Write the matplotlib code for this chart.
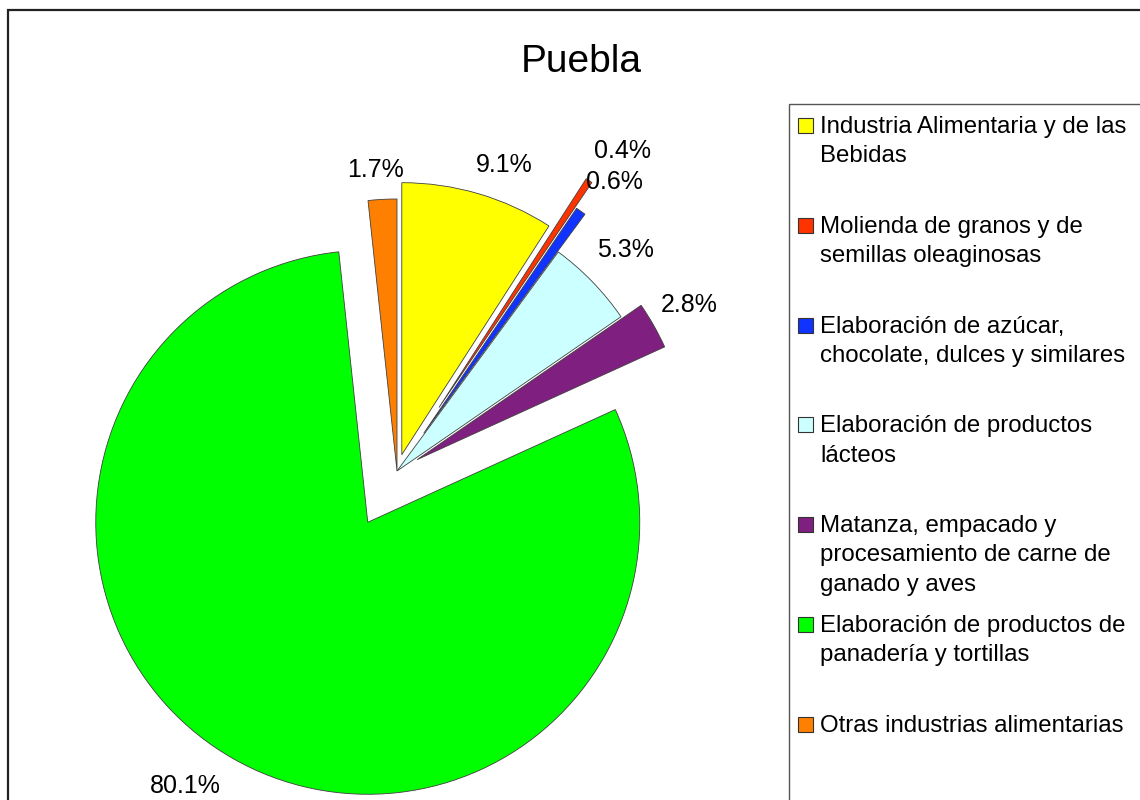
import numpy as np
import matplotlib
matplotlib.use("Agg")
import matplotlib.pyplot as plt
from matplotlib.patches import Rectangle

plt.rcParams['font.family'] = ['Liberation Sans', 'DejaVu Sans']

# participación por rama, Puebla (%)
categorias = ["Industria Alimentaria y de las\nBebidas",
              "Molienda de granos y de\nsemillas oleaginosas",
              "Elaboración de azúcar,\nchocolate, dulces y similares",
              "Elaboración de productos\nlácteos",
              "Matanza, empacado y\nprocesamiento de carne de\nganado y aves",
              "Elaboración de productos de\npanadería y tortillas",
              "Otras industrias alimentarias"]
valores = [9.1, 0.4, 0.6, 5.3, 2.8, 80.1, 1.7]

colores = ["#FFFF00", "#FF3300", "#1033FF", "#CCFFFF", "#7F1F7F", "#00FF00", "#FF8000"]
separacion = [0.0625, 0.28, 0.17, 0.0, 0.085, 0.217, 0.0]

# distancia y ajuste angular de cada etiqueta
dist_etq = [1.13, 1.16, 1.16, 1.17, 1.15, 1.18, 1.11]
giro_etq = [-3, -2, -2, 0, 0, -5, 1]

W, H = 1140, 800
R = 272.0          # radio en pixeles
cx, cy = 397, 471  # centro del pastel en pixeles

fig = plt.figure(figsize=(W / 100, H / 100), dpi=100)
ax = fig.add_axes([0, 0, 1, 1])

wedges, _ = ax.pie(valores, explode=separacion, colors=colores, startangle=90,
                   counterclock=False, radius=1,
                   wedgeprops=dict(edgecolor="#404040", linewidth=0.6))

for w, v, d, g in zip(wedges, valores, dist_etq, giro_etq):
    ang = np.deg2rad((w.theta1 + w.theta2) / 2 + g)
    x0, y0 = w.center
    ax.text(x0 + d * np.cos(ang), y0 + d * np.sin(ang), "%.1f%%" % v,
            ha="center", va="center", fontsize=18)

ax.set_xlim(-cx / R, (W - cx) / R)
ax.set_ylim(-(H - cy) / R, cy / R)
ax.set_aspect("auto")
ax.axis("off")

def fx(px):
    return px / W

def fy(py):
    return 1 - py / H

# marco exterior
fig.patches.append(Rectangle((fx(8), fy(810)), fx(1150) - fx(8), fy(10) - fy(810),
                             transform=fig.transFigure, fill=False,
                             edgecolor="#222222", linewidth=1.6))

fig.text(fx(581), fy(62), "Puebla", ha="center", va="center", fontsize=28)

# leyenda: cada renglón por separado, alineado a su línea base
fig.patches.append(Rectangle((fx(789), fy(810)), fx(1150) - fx(789), fy(104) - fy(810),
                             transform=fig.transFigure, fill=False,
                             edgecolor="#555555", linewidth=1.0))
for i, (cat, col) in enumerate(zip(categorias, colores)):
    base = 133 + 99.8 * i
    fig.patches.append(Rectangle((fx(798), fy(base)), fx(813) - fx(798), fy(base - 15) - fy(base),
                                 transform=fig.transFigure, facecolor=col,
                                 edgecolor="#333333", linewidth=0.8))
    for k, renglon in enumerate(cat.split("\n")):
        fig.text(fx(820), fy(base + 29.3 * k), renglon, ha="left", va="baseline",
                 fontsize=17.3)

fig.savefig("out.png", dpi=100)
